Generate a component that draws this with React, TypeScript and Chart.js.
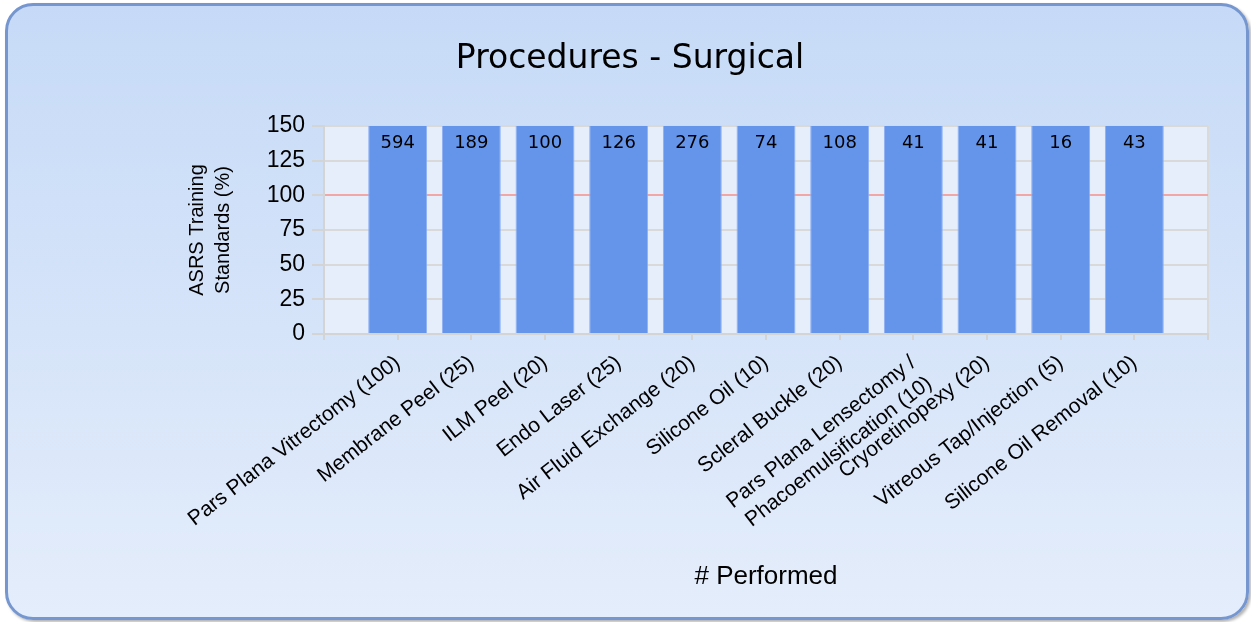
import React, { useEffect, useRef } from 'react';
import { Chart, registerables } from 'chart.js';

Chart.register(...registerables);

const chartTitle = 'Procedures - Surgical';
const yAxisTitle = ['ASRS Training', 'Standards (%)'];
const xAxisTitle = '# Performed';

const categories: (string | string[])[] = [
  'Pars Plana Vitrectomy (100)',
  'Membrane Peel (25)',
  'ILM Peel (20)',
  'Endo Laser (25)',
  'Air Fluid Exchange (20)',
  'Silicone Oil (10)',
  'Scleral Buckle (20)',
  ['Pars Plana Lensectomy /', 'Phacoemulsification (10)'],
  'Cryoretinopexy (20)',
  'Vitreous Tap/Injection (5)',
  'Silicone Oil Removal (10)',
];

// number of procedures performed (printed on the bars)
const performed = [594, 189, 100, 126, 276, 74, 108, 41, 41, 16, 43];
// percentage of the ASRS training standard reached (all exceed the 150% axis cap)
const percentOfStandard = [594, 756, 500, 504, 1380, 740, 540, 410, 205, 320, 430];

const yMin = 0;
const yMax = 150;
const yStep = 25;
const standardLine = 100;

export default function App() {
  const canvasRef = useRef<HTMLCanvasElement | null>(null);

  useEffect(() => {
    if (!canvasRef.current) return;

    const labels = ['', ...categories, ''];
    const values = [null, ...percentOfStandard, null];
    const barText = [null, ...performed, null];

    const deco = {
      id: 'deco',
      beforeDraw(chart: any) {
        const { ctx, chartArea: a } = chart;
        ctx.save();
        ctx.fillStyle = '#e6eefb';
        ctx.fillRect(a.left, a.top, a.right - a.left, a.bottom - a.top);
        ctx.restore();
      },
      afterDatasetsDraw(chart: any) {
        const { ctx } = chart;
        const meta = chart.getDatasetMeta(0);
        const ys = chart.scales.y;
        ctx.save();
        ctx.font = '18px "DejaVu Sans"';
        ctx.fillStyle = '#000';
        ctx.textAlign = 'center';
        ctx.textBaseline = 'middle';
        meta.data.forEach((el: any, i: number) => {
          const v = values[i];
          const t = barText[i];
          if (v == null || t == null) return;
          const top = ys.getPixelForValue(Math.min(v as number, ys.max));
          ctx.fillText(String(t), el.x, top + 17);
        });
        ctx.restore();
      },
    };

    const chart = new Chart(canvasRef.current, {
      type: 'bar',
      data: {
        labels,
        datasets: [
          {
            data: values as any,
            backgroundColor: '#6595eb',
            borderColor: '#8db0f2',
            borderWidth: 1,
            barPercentage: 1,
            categoryPercentage: 0.8,
          },
        ],
      },
      options: {
        animation: false,
        responsive: false,
        maintainAspectRatio: false,
        layout: { padding: { left: 9, right: 0, top: 0, bottom: 0 } },
        plugins: {
          legend: { display: false },
          tooltip: { enabled: false },
          title: {
            display: true,
            text: chartTitle,
            color: '#000',
            font: { family: '"DejaVu Sans"', size: 33, weight: 'normal' as any, lineHeight: 1.2 },
            padding: { top: 40, bottom: 46.4 },
          },
        },
        scales: {
          x: {
            type: 'category',
            offset: false,
            grid: {
              offset: false,
              color: (c: any) => (c.index === 0 || c.index === labels.length - 1 ? '#dadada' : 'rgba(0,0,0,0)'),
              lineWidth: 2,
              tickLength: 6,
              tickColor: '#d4d4d4',
              tickWidth: 2,
            },
            border: { display: true, color: '#d4d4d4', width: 2 },
            ticks: {
              autoSkip: false,
              maxRotation: 38,
              minRotation: 38,
              color: '#000',
              padding: 10,
              font: { family: '"Liberation Sans"', size: 21, lineHeight: 1.25 },
            },
            title: {
              display: true,
              text: xAxisTitle,
              color: '#000',
              font: { family: '"Liberation Sans"', size: 26, lineHeight: 1.2 },
              padding: { top: 0, bottom: 30 },
            },
            afterFit: (s: any) => {
              s.height = 622 - 334;
            },
          },
          y: {
            min: yMin,
            max: yMax,
            grid: {
              color: (c: any) => (c.tick && c.tick.value === standardLine ? '#f2a7a7' : '#d9d9d9'),
              lineWidth: 2,
              tickLength: 12,
              tickColor: '#d4d4d4',
              tickWidth: 2,
            },
            border: { display: true, color: '#d4d4d4', width: 2 },
            ticks: {
              stepSize: yStep,
              color: '#000',
              padding: 7,
              font: { family: '"Liberation Sans"', size: 23 },
            },
            title: {
              display: true,
              text: yAxisTitle,
              color: '#000',
              font: { family: '"Liberation Sans"', size: 20, lineHeight: 1.3 },
              padding: { top: 175, bottom: 0 },
            },
            afterFit: (s: any) => {
              s.width = 324 - 9;
            },
          },
          yRight: {
            position: 'right',
            display: true,
            min: yMin,
            max: yMax,
            grid: { display: false, drawTicks: false },
            border: { display: false },
            ticks: { display: false },
            afterFit: (s: any) => {
              s.width = 1251 - 1208;
            },
          },
        },
      },
      plugins: [deco],
    });

    return () => chart.destroy();
  }, []);

  return (
    <div style={{ position: 'fixed', left: 0, top: 0, width: 1251, height: 622, overflow: 'hidden', background: '#ffffff' }}>
      <div
        style={{
          position: 'absolute',
          left: 5,
          top: 3,
          width: 1244,
          height: 617,
          boxSizing: 'border-box',
          border: '3px solid #7596cf',
          borderRadius: 28,
          background: 'linear-gradient(#c6daf7, #e4edfb)',
          boxShadow: '2px 2px 3px rgba(0,0,0,0.3)',
        }}
      />
      <canvas ref={canvasRef} width={1251} height={622} style={{ position: 'absolute', left: 0, top: 0, width: 1251, height: 622 }} />
    </div>
  );
}
